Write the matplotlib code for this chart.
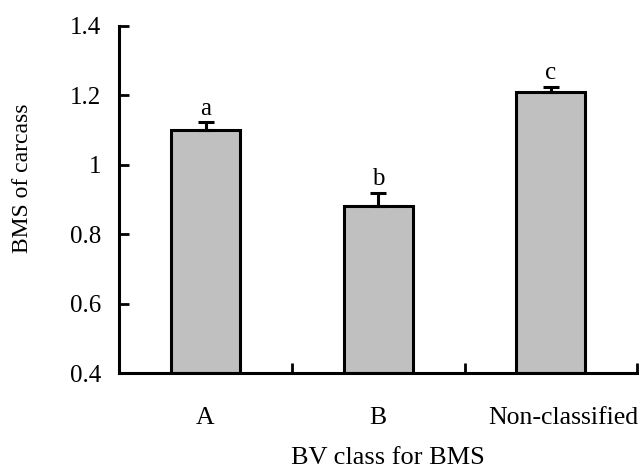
import matplotlib.pyplot as plt
import matplotlib.transforms as mtransforms
from matplotlib.ticker import FixedLocator, NullFormatter

plt.rcParams['font.family'] = ['Liberation Serif', 'DejaVu Serif']

categories = ['A', 'B', 'Non-classified']
means = [1.10, 0.882, 1.209]
errors = [0.022, 0.037, 0.016]
letters = ['a', 'b', 'c']

fs = 18

fig = plt.figure(figsize=(6.41, 4.70), dpi=100)
ax = fig.add_axes([0.186, 0.206, 0.808, 0.739])

pos = [i + 0.5 for i in range(len(categories))]
ax.bar(pos, [m - 0.4 for m in means], bottom=0.4, width=0.4,
       color='#c0c0c0', edgecolor='black', linewidth=2.2, zorder=2)
ax.errorbar(pos, means, yerr=[[0] * len(errors), errors], fmt='none',
            ecolor='black', elinewidth=2.2, capsize=6, capthick=2.2, zorder=3)
for x, m, e, t in zip(pos, means, errors, letters):
    ax.text(x, m + e + 0.008, t, ha='center', va='bottom', fontsize=fs)

ax.set_xlim(0, 3)
ax.set_ylim(0.4, 1.4)
ax.set_yticks([0.4, 0.6, 0.8, 1.0, 1.2, 1.4])
ax.set_yticklabels(['0.4', '0.6', '0.8', '1', '1.2', '1.4'])

ax.xaxis.set_major_locator(FixedLocator([1, 2, 3]))
ax.xaxis.set_major_formatter(NullFormatter())
ax.xaxis.set_minor_locator(FixedLocator(pos))
ax.set_xticklabels(categories, minor=True)
ax.tick_params(axis='x', which='minor', length=0, pad=24, labelsize=fs + 0.5)
ax.tick_params(axis='x', which='major', direction='in', length=7, width=2)
ax.tick_params(axis='y', direction='in', length=7, width=2, labelsize=fs, pad=13)

# last category label sits a little right of its bar in the original
lab = ax.get_xticklabels(minor=True)[-1]
shift = mtransforms.ScaledTranslation(9 / 72, 0, fig.dpi_scale_trans)
lab.set_transform(lab.get_transform() + shift)

for s in ['top', 'right']:
    ax.spines[s].set_visible(False)
for s in ['left', 'bottom']:
    ax.spines[s].set_linewidth(2.2)

ax.set_ylabel('BMS of carcass', fontsize=17)
ax.yaxis.set_label_coords(-0.166, 0.562)
ax.set_xlabel('BV class for BMS', fontsize=19)
ax.xaxis.set_label_coords(0.519, -0.212)

fig.savefig('out.png', dpi=100)
